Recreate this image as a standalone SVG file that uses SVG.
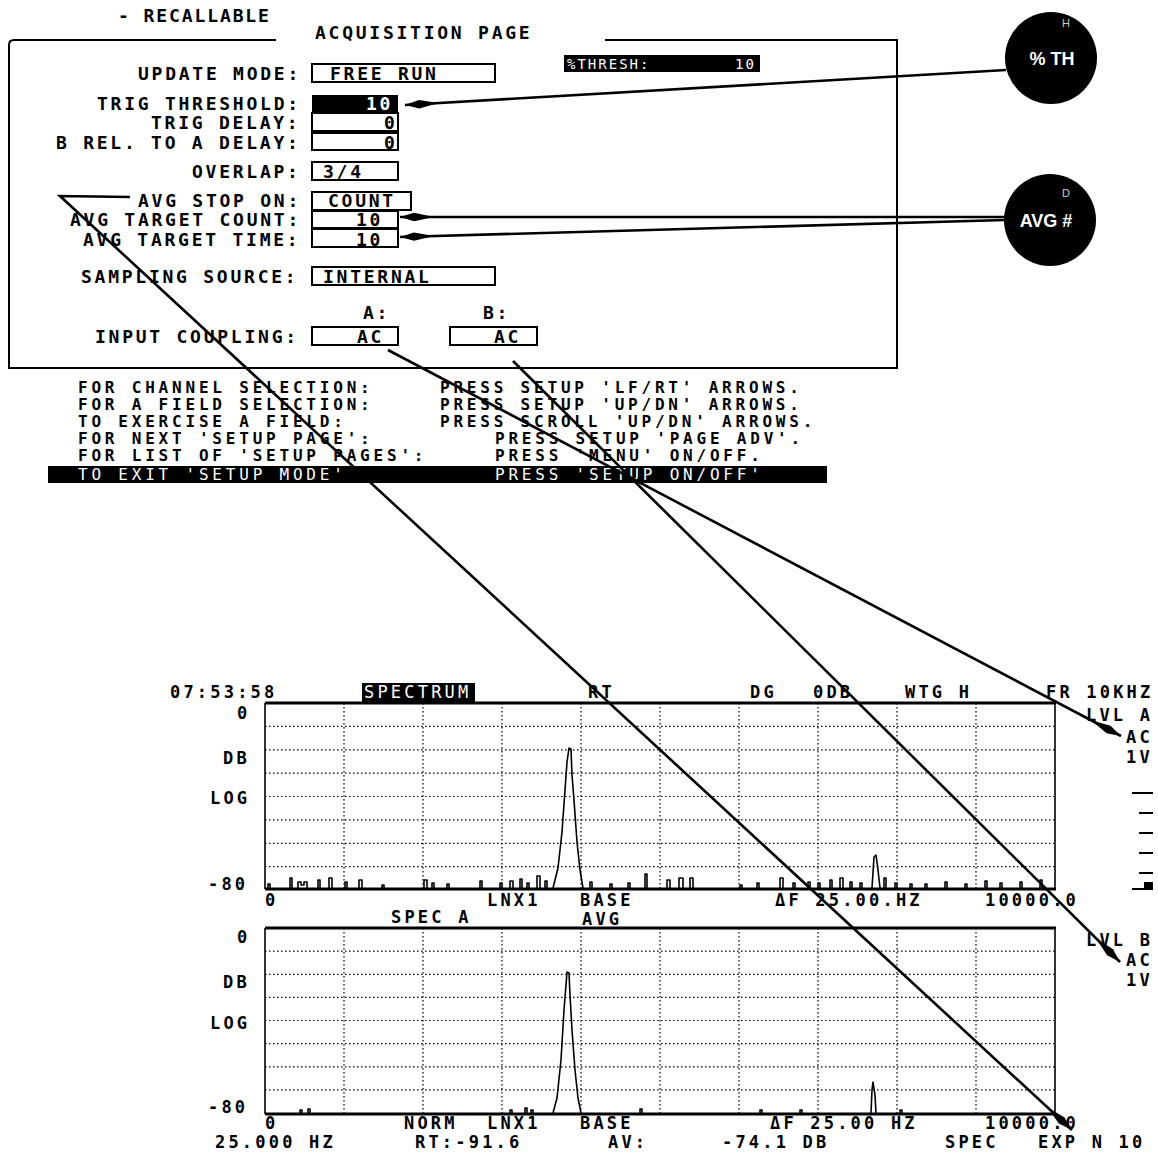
<svg xmlns="http://www.w3.org/2000/svg" width="1158" height="1155" viewBox="0 0 1158 1155">
<style>
.m{font-family:"DejaVu Sans Mono","Liberation Mono",monospace;font-weight:bold;font-size:18px;letter-spacing:2.75px;fill:#000}
.s{font-family:"DejaVu Sans Mono","Liberation Mono",monospace;font-weight:bold;font-size:17px;letter-spacing:3.2px;fill:#000}
.i{font-family:"DejaVu Sans Mono","Liberation Mono",monospace;font-weight:bold;font-size:16px;letter-spacing:3.8px;fill:#000}
.w{fill:#fff}
.bx{fill:#fff;stroke:#000;stroke-width:2}
.bk{fill:#000}
.cn{stroke:#000;stroke-width:2.6;fill:none}
.gd{stroke:#000;stroke-width:1.2;stroke-dasharray:1.5 2.5;fill:none}
.fr{stroke:#000;fill:none}
.tr{stroke:#000;stroke-width:1.6;fill:none;stroke-linejoin:round}
.cl{font-family:"Liberation Sans",Arial,sans-serif;font-weight:bold;fill:#fff}
.sm{font-family:"Liberation Sans",Arial,sans-serif;font-size:11px;fill:#ccc}
</style>
<defs>
<marker id="ah" markerUnits="userSpaceOnUse" markerWidth="36" markerHeight="12" refX="34" refY="6" orient="auto">
<path d="M0,6 L20,1.8 L34,6 L20,10.2 Z" fill="#000"/>
</marker>
</defs>
<rect width="1158" height="1155" fill="#fff"/>

<g id="header">
<text class="m" x="118" y="22" style="letter-spacing:1.9px">- RECALLABLE</text>
<text class="m" x="315" y="39">ACQUISITION PAGE</text>
</g>

<g id="panel">
<path class="fr" stroke-width="2" d="M276,40 H14 Q9,40 9,45 V368 H897 V40 H605"/>
<rect class="bk" x="564" y="55" width="196" height="17"/>
<text class="s w" x="567" y="69" style="font-size:14px;letter-spacing:2px;font-weight:normal">%THRESH:</text>
<text class="s w" x="735" y="69" style="font-size:14px;letter-spacing:2px;font-weight:normal">10</text>

<g id="row-update"><text class="m" x="138" y="79.5">UPDATE MODE:</text><rect class="bx" x="312" y="64" width="183" height="18"/><text class="m" x="330" y="79.5">FREE RUN</text></g>
<g id="row-trigth"><text class="m" x="97" y="109.5">TRIG THRESHOLD:</text><rect class="bk" x="312" y="95" width="86" height="17"/><text class="m w" x="366" y="109.5">10</text></g>
<g id="row-trigdl"><text class="m" x="151" y="128.5">TRIG DELAY:</text><rect class="bx" x="312" y="113" width="86" height="18"/><text class="m" x="384" y="128.5">0</text></g>
<g id="row-brel"><text class="m" x="56" y="148.5">B REL. TO A DELAY:</text><rect class="bx" x="312" y="133" width="86" height="17"/><text class="m" x="384" y="148.5">0</text></g>
<g id="row-overlap"><text class="m" x="192" y="177.5">OVERLAP:</text><rect class="bx" x="312" y="162" width="86" height="18"/><text class="m" x="323" y="177.5">3/4</text></g>
<g id="row-avgstop"><text class="m" x="138" y="206.5">AVG STOP ON:</text><rect class="bx" x="312" y="192" width="99" height="18"/><text class="m" x="328" y="206.5">COUNT</text></g>
<g id="row-avgcnt"><text class="m" x="70" y="225.5">AVG TARGET COUNT:</text><rect class="bx" x="312" y="211" width="86" height="17"/><text class="m" x="356" y="225.5">10</text></g>
<g id="row-avgtime"><text class="m" x="83" y="245.5">AVG TARGET TIME:</text><rect class="bx" x="312" y="229" width="86" height="18"/><text class="m" x="356" y="245.5">10</text></g>
<g id="row-samp"><text class="m" x="81" y="282.5">SAMPLING SOURCE:</text><rect class="bx" x="312" y="267" width="183" height="18"/><text class="m" x="323" y="282.5">INTERNAL</text></g>
<g id="row-input"><text class="m" x="363" y="319">A:</text><text class="m" x="483" y="319">B:</text><text class="m" x="95" y="342.5">INPUT COUPLING:</text><rect class="bx" x="312" y="327" width="86" height="18"/><text class="m" x="357" y="342.5">AC</text><rect class="bx" x="450" y="327" width="87" height="18"/><text class="m" x="494" y="342.5">AC</text></g>
</g>

<g id="instructions">
<text class="i" x="78" y="393">FOR CHANNEL SELECTION:</text><text class="i" x="440" y="393">PRESS SETUP  'LF/RT' ARROWS.</text>
<text class="i" x="78" y="410">FOR A FIELD SELECTION:</text><text class="i" x="440" y="410">PRESS SETUP  'UP/DN' ARROWS.</text>
<text class="i" x="78" y="427">TO EXERCISE A FIELD:</text><text class="i" x="440" y="427">PRESS SCROLL 'UP/DN' ARROWS.</text>
<text class="i" x="78" y="444">FOR NEXT 'SETUP PAGE':</text><text class="i" x="495" y="444">PRESS  SETUP 'PAGE ADV'.</text>
<text class="i" x="78" y="461">FOR LIST OF 'SETUP PAGES':</text><text class="i" x="495" y="461">PRESS  'MENU'  ON/OFF.</text>
<rect class="bk" x="48" y="466" width="779" height="17"/>
<text class="i w" x="78" y="480" style="font-weight:normal">TO EXIT 'SETUP MODE'</text><text class="i w" x="495" y="480" style="font-weight:normal">PRESS 'SETUP  ON/OFF'</text>
</g>

<g id="circle-th">
<circle cx="1051" cy="58" r="46" fill="#000"/>
<text class="sm" x="1062" y="27">H</text>
<text class="cl" x="1052" y="65" text-anchor="middle" font-size="18">% TH</text>
</g>
<g id="circle-avg">
<circle cx="1050" cy="220" r="46" fill="#000"/>
<text class="sm" x="1062" y="197">D</text>
<text class="cl" x="1046" y="227" text-anchor="middle" font-size="18">AVG #</text>
</g>

<g id="spectrum-header">
<text class="s" x="170" y="698">07:53:58</text>
<rect class="bk" x="362" y="683" width="113" height="19"/>
<text class="s w" x="364" y="698" style="font-weight:normal">SPECTRUM</text>
<text class="s" x="588" y="698">RT</text>
<text class="s" x="750" y="698">DG</text>
<text class="s" x="813" y="698">0DB</text>
<text class="s" x="905" y="698">WTG H</text>
<text class="s" x="1046" y="698">FR 10KHZ</text>
</g>

<g id="side-labels">
<text class="s" x="1086" y="721">LVL A</text>
<text class="s" x="1126" y="743">AC</text>
<text class="s" x="1126" y="763">1V</text>
<path class="fr" stroke-width="2.2" d="M1132,793 H1153 M1139,813 H1153 M1139,833 H1153 M1139,853 H1153 M1139,873 H1153 M1132,889 H1153"/>
<rect class="bk" x="1144" y="882" width="9" height="8"/>
<text class="s" x="1086" y="946">LVL B</text>
<text class="s" x="1126" y="966">AC</text>
<text class="s" x="1126" y="986">1V</text>
</g>

<g id="graph-top">
<path class="gd" d="M265,726.4 H1055 M265,749.8 H1055 M265,773.1 H1055 M265,796.5 H1055 M265,819.9 H1055 M265,843.3 H1055 M265,866.6 H1055"/>
<path class="gd" d="M344,703 V888 M423,703 V888 M502,703 V888 M581,703 V888 M660,703 V888 M739,703 V888 M818,703 V888 M897,703 V888 M976,703 V888"/>
<path class="fr" stroke-width="3" d="M265,703 H1056"/>
<path class="fr" stroke-width="1.6" d="M265,703 V889 M1055,703 V889"/>
<path class="fr" stroke-width="3" d="M265,889 H1056"/>
<path class="tr" d="M268,888v-4h2v4 M290,888v-10h2v10 M298,888v-6h3v3h3v-3h3v6 M318,888v-8h2v8 M329,888v-10h3v10 M345,888v-6h2v6 M359,888v-8h3v8 M382,888v-3h2v3 M424,888v-8h3v8 M432,888v-5h2v5 M447,888v-4h2v4 M480,888v-7h2v7 M500,888v-5h2v5 M510,888v-7h3v7 M520,888v-9h2v9 M527,888v-5h2v5 M537,888v-12h3v12 M545,888v-7h2v7 M590,888v-6h2v6 M610,888v-4h2v4 M628,888v-5h2v5 M645,888v-14h2v14 M667,888v-8h3v8 M679,888v-10h4v10 M690,888v-10h3v10 M740,888v-3h2v3 M757,888v-5h2v5 M780,888v-10h3v10 M793,888v-5h2v5 M808,888v-6h2v6 M818,888v-5h2v5 M830,888v-8h2v8 M840,888v-10h3v10 M850,888v-6h2v6 M860,888v-5h2v5 M884,888v-10h2v10 M895,888v-5h2v5 M910,888v-4h2v4 M925,888v-4h2v4 M945,888v-6h2v6 M965,888v-4h2v4 M985,888v-7h2v7 M1000,888v-5h2v5 M1020,888v-6h2v6 M1040,888v-8h2v8"/>
<path class="tr" d="M553,888 L558,868 L562,832 L565,790 L567,762 L569,748 L571,749 L572,775 L574,800 L577,842 L580,870 L583,888"/>
<path class="tr" d="M872,888 L874,857 L876,855 L878,870 L880,888"/>
<text class="s" x="237" y="719">0</text>
<text class="s" x="223" y="764">DB</text>
<text class="s" x="210" y="804">LOG</text>
<text class="s" x="208" y="890">-80</text>
<text class="s" x="265" y="906">0</text>
<text class="s" x="487" y="906">LNX1</text>
<text class="s" x="580" y="906">BASE</text>
<text class="s" x="775" y="906">ΔF 25.00.HZ</text>
<text class="s" x="985" y="906">10000.0</text>
<text class="s" x="391" y="923">SPEC A</text>
<text class="s" x="582" y="925">AVG</text>
</g>

<g id="graph-bottom">
<path class="gd" d="M265,951.1 H1055 M265,974.3 H1055 M265,997.4 H1055 M265,1020.5 H1055 M265,1043.6 H1055 M265,1066.8 H1055 M265,1089.9 H1055"/>
<path class="gd" d="M344,928 V1113 M423,928 V1113 M502,928 V1113 M581,928 V1113 M660,928 V1113 M739,928 V1113 M818,928 V1113 M897,928 V1113 M976,928 V1113"/>
<path class="fr" stroke-width="3" d="M265,928 H1056"/>
<path class="fr" stroke-width="1.6" d="M265,928 V1114 M1055,928 V1114"/>
<path class="fr" stroke-width="3" d="M265,1114 H1056"/>
<path class="tr" d="M300,1113v-3h2v3 M308,1113v-4h2v4 M510,1113v-3h2v3 M525,1113v-5h2v5 M531,1113v-3h2v3 M640,1113v-4h2v4 M760,1113v-3h2v3 M800,1113v-3h2v3 M900,1113v-3h2v3"/>
<path class="tr" d="M553,1113 L557,1098 L561,1060 L564,1010 L566,985 L567,972 L569,973 L570,995 L572,1030 L575,1070 L578,1098 L581,1113"/>
<path class="tr" d="M871,1113 L872,1090 L873,1082 L875,1095 L876,1113"/>
<text class="s" x="237" y="943">0</text>
<text class="s" x="223" y="988">DB</text>
<text class="s" x="210" y="1029">LOG</text>
<text class="s" x="208" y="1113">-80</text>
<text class="s" x="265" y="1129">0</text>
<text class="s" x="404" y="1129">NORM</text>
<text class="s" x="487" y="1129">LNX1</text>
<text class="s" x="580" y="1129">BASE</text>
<text class="s" x="770" y="1129">ΔF 25.00 HZ</text>
<text class="s" x="985" y="1129">10000.0</text>
<text class="s" x="215" y="1148">25.000 HZ</text>
<text class="s" x="415" y="1148">RT:-91.6</text>
<text class="s" x="608" y="1148">AV:</text>
<text class="s" x="722" y="1148">-74.1 DB</text>
<text class="s" x="945" y="1148">SPEC</text>
<text class="s" x="1038" y="1148">EXP N 10</text>
</g>

<g id="connectors">
<line class="cn" x1="1006" y1="70" x2="405" y2="105" marker-end="url(#ah)"/>
<line class="cn" x1="1005" y1="217" x2="400" y2="217" marker-end="url(#ah)"/>
<line class="cn" x1="1005" y1="220" x2="400" y2="237" marker-end="url(#ah)"/>
<polyline class="cn" points="130,197 60,196 1072,1130" marker-end="url(#ah)"/>
<line class="cn" x1="388" y1="350" x2="1121" y2="736" marker-end="url(#ah)"/>
<line class="cn" x1="513" y1="361" x2="1120" y2="962" marker-end="url(#ah)"/>
</g>
</svg>
